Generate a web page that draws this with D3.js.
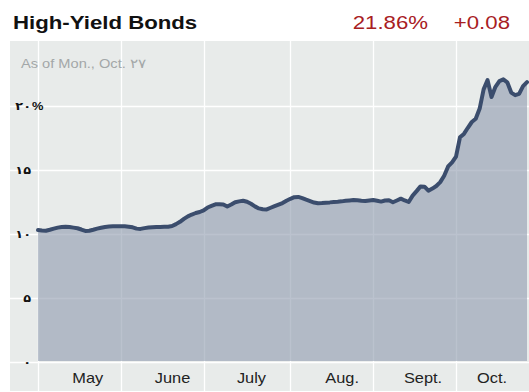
<!DOCTYPE html>
<html>
<head>
<meta charset="utf-8">
<script src="https://cdn.jsdelivr.net/npm/d3@7"></script>
<style>
  body { margin: 0; background: #fff; }
  svg { display: block; font-family: "Liberation Sans", Arial, sans-serif; }
</style>
</head>
<body>
<div id="chart"></div>
<script>
// High-yield bond yield, one value per trading day, May 1 - Oct 27 2008
const yields = [
  10.31, 10.27, 10.25, 10.33, 10.42, 10.50, 10.55, 10.57, 10.55, 10.50,
  10.45, 10.35, 10.24, 10.25, 10.33, 10.42, 10.49, 10.55, 10.58, 10.60,
  10.61, 10.60, 10.60, 10.57, 10.52, 10.42, 10.40, 10.46, 10.50, 10.52,
  10.54, 10.55, 10.56, 10.57, 10.62, 10.77, 10.95, 11.18, 11.38, 11.52,
  11.64, 11.72, 11.85, 12.07, 12.20, 12.32, 12.33, 12.31, 12.15, 12.30,
  12.48, 12.55, 12.60, 12.52, 12.36, 12.16, 12.00, 11.93, 11.92, 12.05,
  12.18, 12.30, 12.42, 12.60, 12.75, 12.88, 12.90, 12.80, 12.68, 12.57,
  12.46, 12.40, 12.42, 12.45, 12.47, 12.50, 12.52, 12.55, 12.59, 12.62,
  12.65, 12.64, 12.60, 12.58, 12.62, 12.66, 12.60, 12.53, 12.62, 12.64,
  12.48, 12.62, 12.76, 12.62, 12.50, 13.00, 13.35, 13.72, 13.70, 13.38,
  13.55, 13.75, 14.05, 14.55, 15.28, 15.60, 16.05, 17.55, 17.82, 18.30,
  18.75, 19.00, 19.80, 21.30, 22.02, 20.70, 21.50, 21.95, 22.08, 21.85,
  21.05, 20.85, 20.95, 21.55, 21.86
];

// trading-day index of the first day of each month (gridlines)
const monthStarts = [0, 21, 42, 64, 85, 106];
const monthLabels = ["May", "June", "July", "Aug.", "Sept.", "Oct."];
const labelDays = [12.5, 34, 54, 77, 97.5, 115];

const yTicks = [0, 5, 10, 15, 20];
const yTickLabels = ["۰", "۵", "۱۰", "۱۵", "۲۰"];

const title = "High-Yield Bonds";
const lastValue = "21.86%";
const change = "+0.08";
const asOf = "As of Mon., Oct. ۲۷";

drawChart();

function drawChart() {
    const width = 529, height = 392;
    const panel = {left: 10, top: 41, right: 529, bottom: 391};
    const stretch = 1.17;   // text in the original is a bit wide

    const svg = d3.select("#chart")
        .append("svg")
        .attr("width", width)
        .attr("height", height);

    const xScale = d3.scaleLinear()
        .domain([0, yields.length - 1])
        .range([38, 527]);

    const yScale = d3.scaleLinear()
        .domain([0, 25])
        .range([362, 42]);

    // panel background
    svg.append("rect")
        .attr("x", panel.left)
        .attr("y", panel.top)
        .attr("width", panel.right - panel.left)
        .attr("height", panel.bottom - panel.top)
        .attr("fill", "#e8ebea");

    // gridlines
    svg.selectAll(".hgrid")
        .data(yTicks)
        .join("line")
        .attr("class", "hgrid")
        .attr("x1", panel.left)
        .attr("x2", panel.right)
        .attr("y1", d => Math.round(yScale(d)) + 0.5)
        .attr("y2", d => Math.round(yScale(d)) + 0.5)
        .attr("stroke", "#fff")
        .attr("stroke-width", 1.3);

    svg.selectAll(".vgrid")
        .data(monthStarts)
        .join("line")
        .attr("class", "vgrid")
        .attr("x1", d => Math.round(xScale(d)) + 0.5)
        .attr("x2", d => Math.round(xScale(d)) + 0.5)
        .attr("y1", panel.top)
        .attr("y2", panel.bottom)
        .attr("stroke", "#fff")
        .attr("stroke-width", 1.3);

    // area + line
    const area = d3.area()
        .x((d, i) => xScale(i))
        .y0(yScale(0) - 1)
        .y1(d => yScale(d));

    svg.append("path")
        .datum(yields)
        .attr("d", area)
        .attr("fill", "rgb(146,156,176)")
        .attr("fill-opacity", 0.62);

    const line = d3.line()
        .x((d, i) => xScale(i))
        .y(d => yScale(d));

    svg.append("path")
        .datum(yields)
        .attr("d", line)
        .attr("fill", "none")
        .attr("stroke", "#3b4d6d")
        .attr("stroke-width", 4)
        .attr("stroke-linejoin", "round")
        .attr("stroke-linecap", "round");

    // y labels
    svg.selectAll(".ylabel")
        .data(yTicks)
        .join("text")
        .attr("class", "ylabel")
        .attr("transform", d => `translate(31,${yScale(d)}) scale(${stretch},1)`)
        .attr("dy", "0.35em")
        .attr("text-anchor", "end")
        .style("font-family", "'DejaVu Sans', sans-serif")
        .style("font-size", "11px")
        .style("font-weight", "bold")
        .attr("fill", "#111")
        .text((d, i) => yTickLabels[i]);

    svg.append("text")
        .attr("transform", `translate(32,${yScale(20)}) scale(${stretch},1)`)
        .attr("dy", "0.35em")
        .style("font-size", "11px")
        .style("font-weight", "bold")
        .attr("fill", "#111")
        .text("%");

    // x labels
    const xAxis = d3.axisBottom(xScale)
        .tickValues(labelDays)
        .tickFormat((d, i) => monthLabels[i])
        .tickSize(0);

    const xAxisGroup = svg.append("g")
        .attr("class", "x-axis")
        .attr("transform", `translate(0,${yScale(0)})`)
        .call(xAxis);

    xAxisGroup.select(".domain").remove();
    xAxisGroup.selectAll("text")
        .attr("y", 0)
        .attr("dy", null)
        .attr("transform", `translate(0,21) scale(${stretch},1)`)
        .style("font-family", "'Liberation Sans', Arial, sans-serif")
        .style("font-size", "14px")
        .attr("fill", "#222");

    // header
    svg.append("text")
        .attr("transform", `translate(13,29) scale(${stretch},1)`)
        .style("font-size", "19px")
        .style("font-weight", "bold")
        .attr("fill", "#111")
        .text(title);

    svg.append("text")
        .attr("transform", `translate(428,29) scale(${stretch},1)`)
        .attr("text-anchor", "end")
        .style("font-size", "19px")
        .attr("fill", "#a8201f")
        .text(lastValue);

    svg.append("text")
        .attr("transform", `translate(510,29) scale(${stretch},1)`)
        .attr("text-anchor", "end")
        .style("font-size", "19px")
        .attr("fill", "#a8201f")
        .text(change);

    svg.append("text")
        .attr("transform", `translate(21,68) scale(${stretch},1)`)
        .style("font-size", "12.5px")
        .attr("fill", "#a3a7a8")
        .text(asOf);
}
</script>
</body>
</html>
